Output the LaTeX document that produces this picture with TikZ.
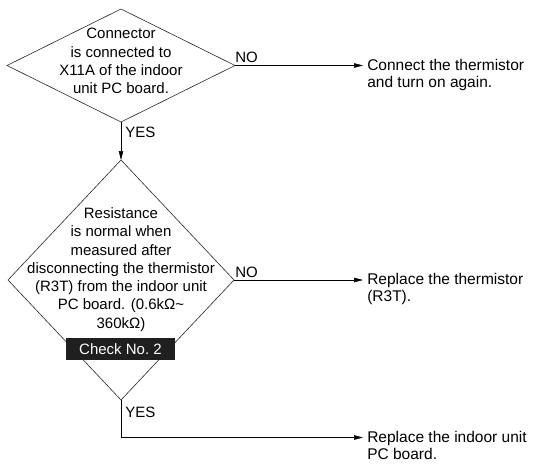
\documentclass[tikz,border=0pt]{standalone}
\usepackage{fontspec}
\setmainfont{Liberation Sans}
\usetikzlibrary{shapes.geometric,arrows.meta}

\begin{document}
\begin{tikzpicture}[x=1pt, y=-1pt, line width=0.6pt, >={Triangle[length=9pt,width=4.5pt]},
		every node/.style={font=\fontsize{15}{18.3}\selectfont},
		decision/.style 2 args={diamond, draw=black!85, minimum width=#1, minimum height=#2, inner sep=0pt, outer sep=0pt},
		answer/.style={anchor=north west, align=left, inner sep=0pt, font=\fontsize{15.5}{17.3}\selectfont},
		lbl/.style={anchor=base west, inner sep=0pt},
		checkbox/.style={fill=black!88, text=white, minimum width=109pt, minimum height=22pt, inner sep=0pt}]
		\useasboundingbox (0,0) rectangle (535,464);
		
		\node[decision={228pt}{113pt}] (q1) at (121,65.5) {};
		\node[align=center, inner sep=0pt] (t1) at (121,61) {Connector\\is connected to\\X11A of the indoor\\unit PC board.};
		
		\node[decision={226pt}{240pt}] (q2) at (121,280) {};
		\node[align=center, inner sep=0pt] (t2) at (121,269.5) {Resistance\\is normal when\\measured after\\disconnecting the thermistor\\(R3T) from the indoor unit\\PC board. (0.6kΩ\textasciitilde\\360kΩ)};
		\node[checkbox] (chk) at (120.5,349) {Check No.~2};
		
		\node[answer] (a1) at (367,59) {Connect the thermistor\\and turn on again.};
		\node[answer] (a2) at (367,273) {Replace the thermistor\\(R3T).};
		\node[answer] (a3) at (367,430.5) {Replace the indoor unit\\PC board.};
		\coordinate (c3) at (121,437.5);
		
		\draw[->, shorten >=4pt] (q1.east) -- (q1.east -| a1.west);
		\draw[->] (q1.south) -- (q2.north);
		\draw[->, shorten >=4pt] (q2.east) -- (q2.east -| a2.west);
		\draw[->, shorten >=4pt] (q2.south) |- (c3 -| a3.west);
		%\draw[gray, dashed] (0,0) grid[step=50] (535,464);
		
		\node[lbl] (no1) at (235,62) {NO};
		\node[lbl] (yes1) at (125,137) {YES};
		\node[lbl] (no2) at (235,277) {NO};
		\node[lbl] (yes2) at (125,417) {YES};
	\end{tikzpicture}
\end{document}
